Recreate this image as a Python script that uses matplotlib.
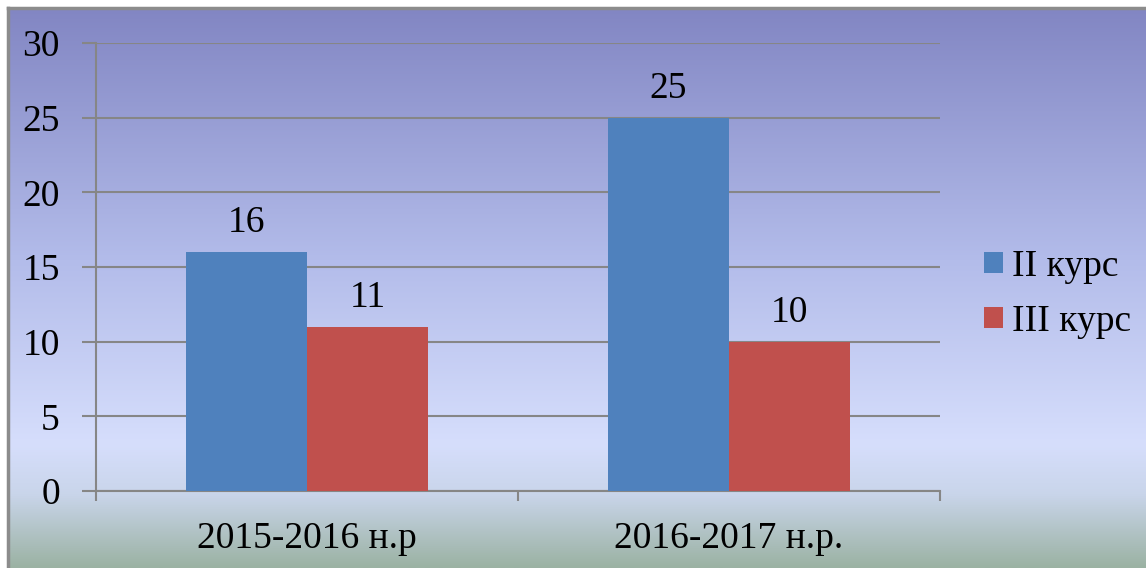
import numpy as np
import matplotlib.pyplot as plt
from matplotlib.colors import LinearSegmentedColormap

categories = ["2015-2016 н.р", "2016-2017 н.р."]
series_names = ["II курс", "III курс"]
kurs2 = [16, 25]
kurs3 = [11, 10]
bar_colors = ["#4F81BD", "#C0504D"]

plt.rcParams["font.family"] = ["Liberation Serif", "DejaVu Serif"]

fig = plt.figure(figsize=(11.46, 5.68), dpi=100)

# background gradient panel with grey frame
bg = fig.add_axes([8 / 1146, 0, 1 - 8 / 1146, 1 - 8 / 568])
grad = LinearSegmentedColormap.from_list(
    "bg", [(0, "#8286C3"), (0.45, "#B3BCEA"), (0.78, "#D6DEFC"),
           (0.87, "#C9D5EA"), (1, "#9BB2A3")])
bg.imshow(np.linspace(0, 1, 256).reshape(-1, 1), aspect="auto", cmap=grad,
          extent=[0, 1, 0, 1])
bg.set_xticks([])
bg.set_yticks([])
for s in bg.spines.values():
    s.set_color("#8C8C8C")
    s.set_linewidth(2.5)
bg.spines["right"].set_visible(False)
bg.spines["bottom"].set_visible(False)

W, H = 1146, 568
ax = fig.add_axes([96 / W, (H - 491) / H, (940 - 96) / W, (491 - 43) / H])
ax.patch.set_alpha(0)

fs = 27
x = np.arange(len(categories))
w = 0.287
b1 = ax.bar(x - w / 2, kurs2, w, color=bar_colors[0], label=series_names[0], zorder=3)
b2 = ax.bar(x + w / 2, kurs3, w, color=bar_colors[1], label=series_names[1], zorder=3)
for bars in (b1, b2):
    for r in bars:
        ax.annotate(f"{r.get_height():g}", (r.get_x() + r.get_width() / 2, r.get_height()),
                    xytext=(0, 21), textcoords="offset points", ha="center", va="center",
                    fontsize=fs)

ax.set_xlim(-0.5, 1.5)
ax.set_ylim(0, 30)
ax.set_yticks(range(0, 31, 5))
ax.yaxis.grid(True, color="#868686", linewidth=1.5, zorder=0)
ax.set_xticks(x)
ax.set_xticklabels(categories)
ax.set_xticks([-0.5, 0.5, 1.5], minor=True)
ax.tick_params(axis="x", which="major", length=0, labelsize=fs, pad=22)
ax.tick_params(axis="x", which="minor", length=7, width=1.5, color="#868686", direction="out")
ax.tick_params(axis="y", length=10, width=1.5, color="#868686", labelsize=fs, pad=16)
for k in ["top", "right"]:
    ax.spines[k].set_visible(False)
for k in ["left", "bottom"]:
    ax.spines[k].set_color("#868686")
    ax.spines[k].set_linewidth(1.5)

leg = ax.legend(loc="center left", bbox_to_anchor=(1.03, 0.44), frameon=False,
                fontsize=fs, handlelength=0.5, handleheight=0.5, handletextpad=0.25,
                labelspacing=0.55, borderpad=0)

fig.savefig("out.png", dpi=100)
